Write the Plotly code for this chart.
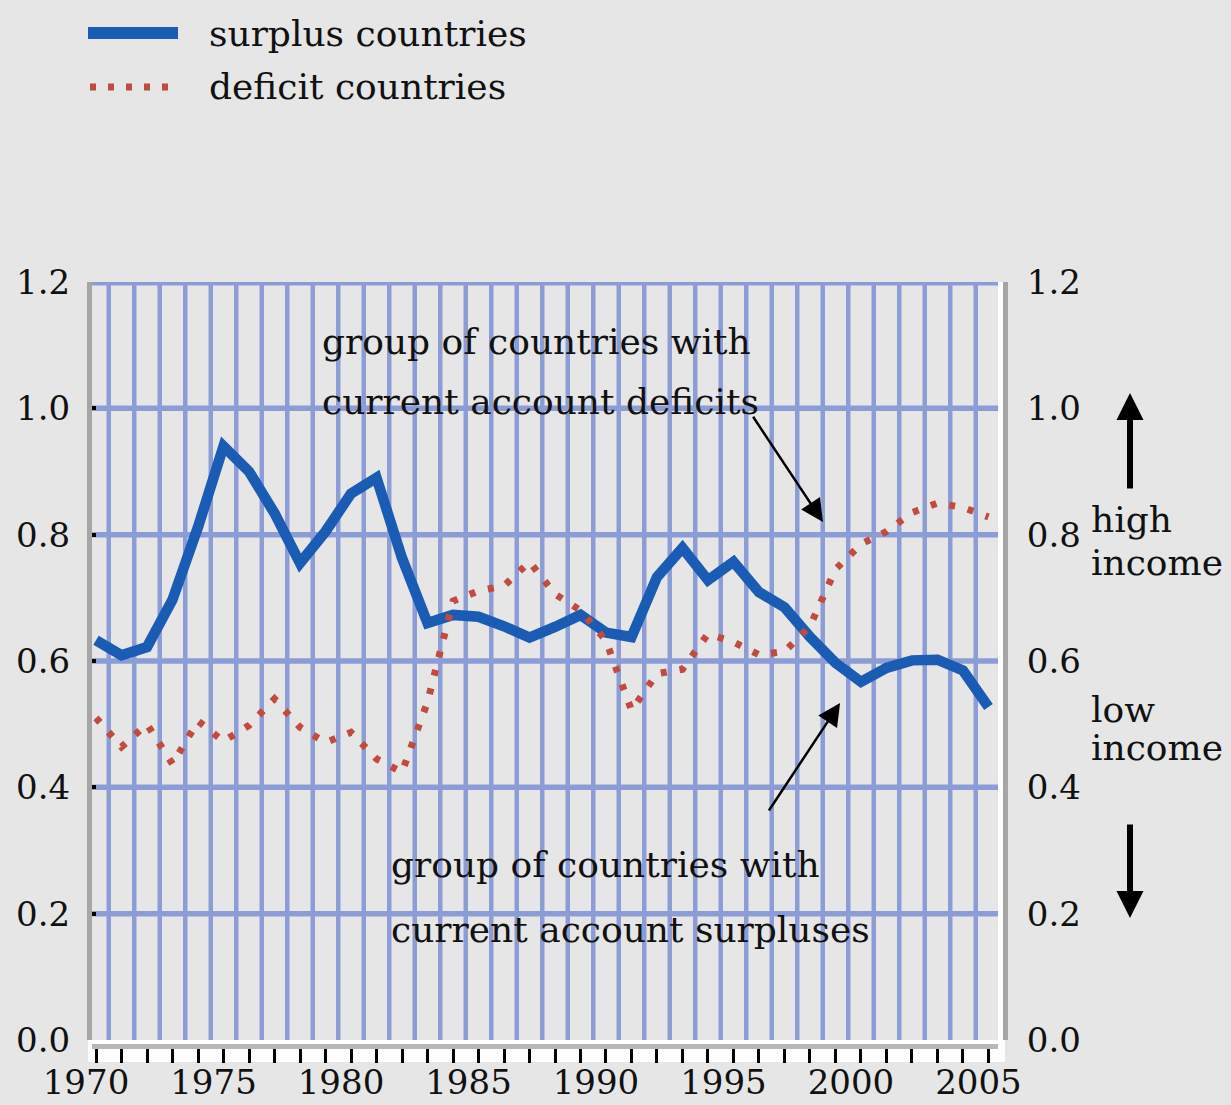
import plotly.graph_objects as go

# ---------------- data ----------------
years = list(range(1970, 2006))
surplus = [0.633, 0.609, 0.622, 0.697, 0.812, 0.940, 0.900, 0.834, 0.755, 0.805,
           0.865, 0.890, 0.763, 0.660, 0.673, 0.670, 0.655, 0.637, 0.654, 0.673,
           0.645, 0.638, 0.733, 0.779, 0.728, 0.757, 0.709, 0.685, 0.638, 0.597,
           0.567, 0.589, 0.601, 0.602, 0.585, 0.527]
deficit = [0.510, 0.464, 0.500, 0.437, 0.505, 0.473, 0.498, 0.540, 0.495, 0.471,
           0.487, 0.445, 0.424, 0.535, 0.695, 0.711, 0.719, 0.757, 0.706, 0.680,
           0.632, 0.522, 0.580, 0.587, 0.643, 0.630, 0.610, 0.615, 0.655, 0.745,
           0.785, 0.805, 0.835, 0.850, 0.843, 0.828]
y_tickvals = [0.0, 0.2, 0.4, 0.6, 0.8, 1.0, 1.2]
y_ticktext = ["0.0", "0.2", "0.4", "0.6", "0.8", "1.0", "1.2"]
x_label_years = [1970, 1975, 1980, 1985, 1990, 1995, 2000, 2005]
series_names = ["surplus countries", "deficit countries"]
deficit_note = ["group of countries with", "current account deficits"]
surplus_note = ["group of countries with", "current account surpluses"]
side_labels = ["high", "income", "low", "income"]

# ---------------- styles ----------------
FONT = "DejaVu Serif"
BG = "#e6e6e6"
GRID = "#8c9dd6"
BLUE = "#1a5cb4"
RED = "#c24a3e"
AXIS_GRAY = "#a6a6a6"
TXT = "#111111"

W, H = 1231, 1105
ML, MR, MT, MB = 92, 226, 282, 59
paper_w = W - ML - MR          # 913
paper_h = H - MT - MB          # 764
x_dom_end = 906 / paper_w
y_dom_start = 6 / paper_h
x_range = [1969.843, 2005.373]


def px_x(p):
    return (p - ML) / paper_w


def px_y(p):
    return (H - MB - p) / paper_h


fig = go.Figure()
fig.add_trace(go.Scatter(x=years, y=surplus, mode="lines", name=series_names[0],
                         line=dict(color=BLUE, width=10.5), showlegend=False))
fig.add_trace(go.Scatter(x=years, y=deficit, mode="lines", name=series_names[1],
                         yaxis="y2",
                         line=dict(color=RED, width=7, dash="6px,13px"),
                         showlegend=False))

shapes = []
# vertical grid lines between years
for yr in years[:-1]:
    shapes.append(dict(type="line", xref="x", yref="y domain",
                       x0=yr + 0.5, x1=yr + 0.5, y0=0, y1=1, layer="below",
                       line=dict(color=GRID, width=4.5)))
# horizontal grid lines
for v in y_tickvals[1:]:
    shapes.append(dict(type="line", xref="x domain", yref="y",
                       x0=0, x1=1, y0=v, y1=v, layer="below",
                       line=dict(color=GRID, width=7 if v == 1.2 else 5.5)))
# white strips around the frame
shapes.append(dict(type="rect", xref="paper", yref="paper",
                   x0=px_x(88), x1=1.0, y0=px_y(1062), y1=px_y(1040),
                   fillcolor="white", line=dict(width=0), layer="below"))
shapes.append(dict(type="rect", xref="paper", yref="paper",
                   x0=x_dom_end, x1=px_x(1003), y0=px_y(1040), y1=1,
                   fillcolor="white", line=dict(width=0), layer="below"))
# legend symbols
shapes.append(dict(type="line", xref="paper", yref="paper",
                   x0=px_x(88), x1=px_x(178), y0=px_y(33), y1=px_y(33),
                   line=dict(color=BLUE, width=12)))
shapes.append(dict(type="line", xref="paper", yref="paper",
                   x0=px_x(90), x1=px_x(180), y0=px_y(87), y1=px_y(87),
                   line=dict(color=RED, width=7, dash="6px,12px")))

ann = []
# legend text
ann.append(dict(text=series_names[0], xref="paper", yref="paper",
                x=px_x(207), y=px_y(33.5), xanchor="left", yanchor="middle",
                showarrow=False, font=dict(family=FONT, size=36, color=TXT)))
ann.append(dict(text=series_names[1], xref="paper", yref="paper",
                x=px_x(207), y=px_y(86), xanchor="left", yanchor="middle",
                showarrow=False, font=dict(family=FONT, size=36, color=TXT)))
# notes in the plot
for txt, yv in zip(deficit_note, [1.1058, 1.0108]):
    ann.append(dict(text=txt, xref="x", yref="y", x=1978.78, y=yv,
                    xanchor="left", yanchor="middle", showarrow=False,
                    font=dict(family=FONT, size=36, color=TXT)))
for txt, yv in zip(surplus_note, [0.2778, 0.1749]):
    ann.append(dict(text=txt, xref="x", yref="y", x=1981.49, y=yv,
                    xanchor="left", yanchor="middle", showarrow=False,
                    font=dict(family=FONT, size=36, color=TXT)))
# note arrows
ann.append(dict(text="", xref="x", yref="y", x=1998.51, y=0.820,
                axref="x", ayref="y", ax=1995.73, ay=0.989,
                showarrow=True, arrowhead=2, arrowsize=1.8, arrowwidth=2.5,
                arrowcolor="black", standoff=0))
ann.append(dict(text="", xref="x", yref="y", x=1999.18, y=0.5335,
                axref="x", ayref="y", ax=1996.35, ay=0.361,
                showarrow=True, arrowhead=2, arrowsize=1.8, arrowwidth=2.5,
                arrowcolor="black", standoff=0))
# side labels
for txt, yv in zip(side_labels, [0.824, 0.756, 0.523, 0.463]):
    ann.append(dict(text=txt, xref="paper", yref="y", x=px_x(1089), y=yv,
                    xanchor="left", yanchor="middle", showarrow=False,
                    font=dict(family=FONT, size=36, color=TXT)))
# up / down arrows
ann.append(dict(text="", xref="paper", yref="y", x=px_x(1130), y=1.0243,
                ax=0, ay=97, showarrow=True, arrowhead=2, arrowsize=0.9,
                arrowwidth=6, arrowcolor="black", standoff=0))
ann.append(dict(text="", xref="paper", yref="y", x=px_x(1130), y=0.1931,
                ax=0, ay=-95, showarrow=True, arrowhead=2, arrowsize=0.9,
                arrowwidth=6, arrowcolor="black", standoff=0))

fig.update_layout(
    width=W, height=H,
    margin=dict(l=ML, r=MR, t=MT, b=MB, pad=0, autoexpand=False),
    paper_bgcolor=BG, plot_bgcolor=BG,
    showlegend=False,
    font=dict(family=FONT, size=34, color=TXT),
    xaxis=dict(domain=[0, x_dom_end], range=x_range, anchor="free", position=0,
               automargin=False,
               showgrid=False, zeroline=False,
               tickvals=years,
               ticktext=[str(y) if y in x_label_years else "" for y in years],
               ticks="outside", ticklen=14, tickwidth=3, tickcolor="black",
               showline=True, linecolor="#b8b8b8", linewidth=5,
               ticklabelstandoff=-10, ticklabelshift=-10,
               tickfont=dict(family=FONT, size=34, color=TXT)),
    yaxis=dict(domain=[y_dom_start, 1], range=[0, 1.2], automargin=False,
               tickvals=y_tickvals, ticktext=y_ticktext,
               showgrid=False, zeroline=False,
               showline=True, linecolor=AXIS_GRAY, linewidth=5,
               ticks="inside", ticklen=4, tickwidth=4, tickcolor="black",
               ticklabelstandoff=10,
               tickfont=dict(family=FONT, size=34, color=TXT)),
    yaxis2=dict(overlaying="y", side="right", anchor="free", position=1.0,
                automargin=False,
                range=[0, 1.2], tickvals=y_tickvals, ticktext=y_ticktext,
                showgrid=False, zeroline=False,
                showline=True, linecolor=AXIS_GRAY, linewidth=5,
                ticks="", ticklabelstandoff=12,
                tickfont=dict(family=FONT, size=34, color=TXT)),
    shapes=shapes,
    annotations=ann,
)

fig.write_html(
    "out.html",
    config={"displayModeBar": False},
    post_script=("document.body.style.margin='0';"
                 "document.body.style.background='" + BG + "';"),
)
